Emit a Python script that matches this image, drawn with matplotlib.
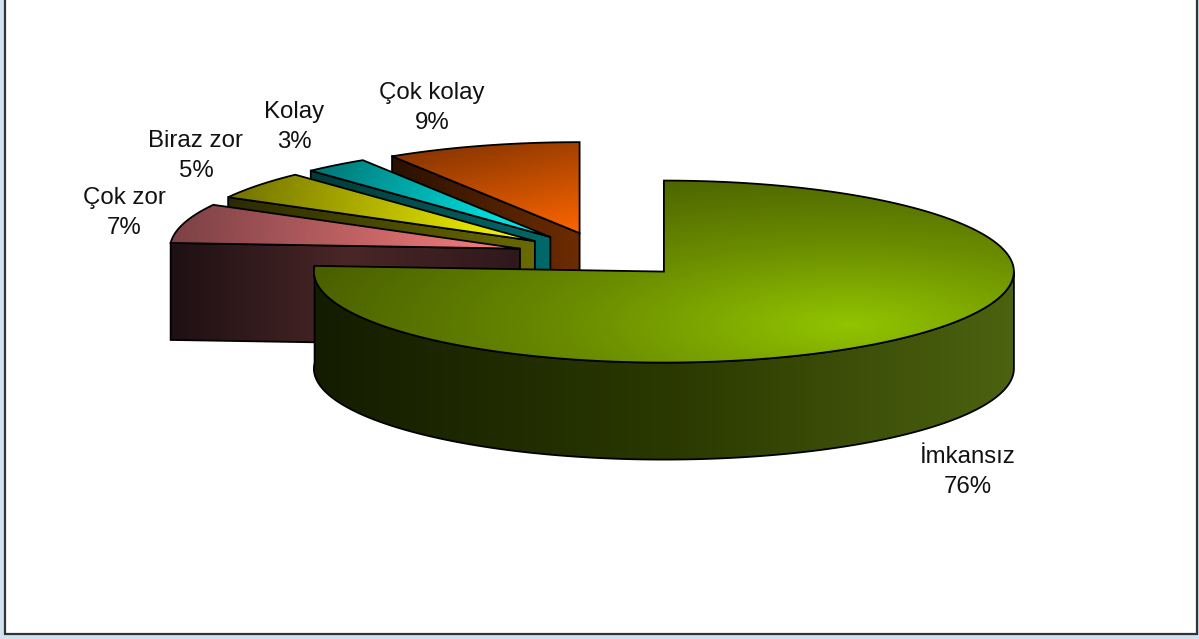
import numpy as np
import matplotlib
import matplotlib.pyplot as plt
from matplotlib.colors import LinearSegmentedColormap
from matplotlib.patches import Polygon, Rectangle

matplotlib.use('agg')

labels = ['İmkansız', 'Çok zor', 'Biraz zor', 'Kolay', 'Çok kolay']
values = [76, 7, 5, 3, 9]

# pie geometry in pixels
cx, cy = 604, 255
rx, ry = 350, 91
depth = 97
explode = 0.25

label_pos = [(968, 472), (124, 213), (196, 156), (294, 127), (432, 108)]

top_colors = [['#4a6000', '#6a8c00', '#92c400'], ['#7a4045', '#ff8080'], ['#6f6f00', '#ffff00'],
              ['#007070', '#00ffff'], ['#7a3000', '#ff6600']]
top_dirs = [None, (1, 0.05), (1, 0.2), (1, 0.45), (0.22, 1)]
wall_colors = [['#141c00', '#2a3800', '#4c6210'], ['#1e1014', '#4a2626', '#2e181c'], ['#2a2a00', '#6a6a00'],
               ['#003a3a', '#006a6a'], ['#2a1000', '#6e2c00']]


def point(c, a, r=1.0):
    t = np.radians(a)
    return c[0] + r * rx * np.sin(t), c[1] - r * ry * np.cos(t)


def grad_fill(ax, verts, colors, direction=(1, 0), focus=None, z=1):
    cmap = LinearSegmentedColormap.from_list('g', colors)
    verts = np.array(verts)
    x0, y0 = verts.min(axis=0)
    x1, y1 = verts.max(axis=0)
    xx, yy = np.meshgrid(np.arange(x0 - 1, x1 + 2), np.arange(y0 - 1, y1 + 2))
    if focus is not None:
        t = 1 - np.sqrt(((xx - focus[0]) / focus[2]) ** 2 + ((yy - focus[1]) / focus[3]) ** 2)
    else:
        t = (xx - x0) * direction[0] + (yy - y0) * direction[1]
        t = (t - t.min()) / (t.max() - t.min())
    im = ax.imshow(np.clip(t, 0, 1), cmap=cmap, vmin=0, vmax=1, zorder=z, aspect='auto', interpolation='bilinear',
                   extent=(xx.min(), xx.max(), yy.max(), yy.min()))
    poly = Polygon(verts, closed=True, facecolor='none', edgecolor='black', linewidth=1.3, zorder=z + 0.1)
    ax.add_patch(poly)
    im.set_clip_path(poly)


fig = plt.figure(figsize=(11.99, 6.39), dpi=100, facecolor='#cfe2ee')
ax = fig.add_axes([0, 0, 1, 1])
ax.set_xlim(0, 1199)
ax.set_ylim(639, 0)
ax.axis('off')
ax.add_patch(Rectangle((5, -5), 1192, 639, facecolor='white', edgecolor='#333333', linewidth=1.6, zorder=0))

plt.rcParams['font.family'] = ['Liberation Sans', 'DejaVu Sans']

# start/end angles, clockwise from north
ends = np.cumsum(values) / np.sum(values) * 360
starts = np.concatenate([[0], ends[:-1]])
order = [4, 3, 2, 1, 0]

z = 1
for i in order:
    a, b = starts[i], ends[i]
    mid = (a + b) / 2
    apex = point((cx, cy), mid, explode)
    arc = [point(apex, v) for v in np.linspace(a, b, 200)]

    # radial wall on the start edge
    if np.sin(np.radians(a)) < -1e-6:
        p = point(apex, a)
        wall = [apex, p, (p[0], p[1] + depth), (apex[0], apex[1] + depth)]
        grad_fill(ax, wall, wall_colors[i], z=z)
        z += 1

    # outer rim, front half only
    lo, hi = max(a, 90), min(b, 270)
    if hi > lo:
        rim = [point(apex, v) for v in np.linspace(lo, b if b - 270 < 10 else hi, 200)]
        rim_low = [(x, y + depth) for x, y in rim[::-1]]
        grad_fill(ax, rim + rim_low, wall_colors[i], direction=(1, 0), z=z)
        z += 1

    top = [apex] + arc
    if top_dirs[i] is None:
        grad_fill(ax, top, top_colors[i], focus=(850, 325, 560, 165), z=z)
    else:
        grad_fill(ax, top, top_colors[i], direction=top_dirs[i], z=z)
    z += 1

for name, val, pos in zip(labels, values, label_pos):
    ax.text(pos[0], pos[1], f'{name}\n{val}%', ha='center', va='center', fontsize=17.3,
            linespacing=1.45, color='#111111', zorder=50)

ax.set_xlim(0, 1199)
ax.set_ylim(639, 0)
fig.savefig('out.png', dpi=100, facecolor=fig.get_facecolor())
plt.close()
